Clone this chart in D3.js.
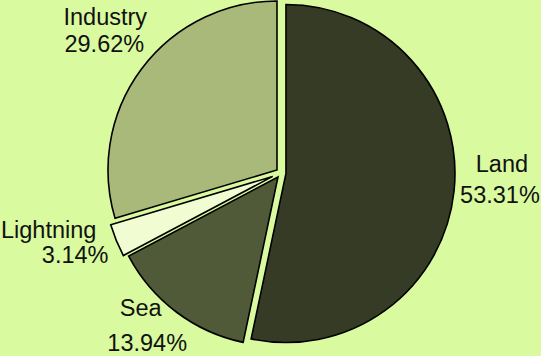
<!DOCTYPE html>
<html>
<head>
<meta charset="utf-8">
<script src="https://cdn.jsdelivr.net/npm/d3@7"></script>
<style>
  html, body { margin: 0; padding: 0; background: #d9fa9e; }
  svg { display: block; }
  text { font-family: "Liberation Sans", Arial, sans-serif; font-size: 23.5px; fill: #111; }
</style>
</head>
<body>
<script>
// Data
const categories = ["Land", "Sea", "Lightning", "Industry"];
const shares = [53.31, 13.94, 3.14, 29.62];
const colors = ["#363b26", "#505a38", "#f2fcd2", "#a8b97a"];

// Layout (explode distance and label placement relative to slice mid-angle)
const sliceLayout = {
  "Land":      { ex: 5, r: 219, da: -4.4, gap: 31, dx1: 2,     dy: 0 },
  "Sea":       { ex: 5, r: 204, da: 4.0,  gap: 35, dx1: -6.5,  dy: -1.5 },
  "Lightning": { ex: 9, r: 217, da: 3.8,  gap: 25, dx1: -26.5, dy: 0 },
  "Industry":  { ex: 5, r: 227, da: 2.2,  gap: 27, dx1: 1,     dy: 0 }
};

const W = 541, H = 356;
const cx = 281, cy = 173, R = 169;

const svg = d3.select("body").append("svg").attr("width", W).attr("height", H);
svg.append("rect").attr("width", W).attr("height", H).attr("fill", "#d9fa9e");

const data = categories.map((c, i) => ({ cat: c, value: shares[i], color: colors[i] }));
const pie = d3.pie().value(d => d.value).sort(null);
const arcs = pie(data);
const arc = d3.arc().innerRadius(0).outerRadius(R);

const g = svg.append("g").attr("transform", `translate(${cx},${cy})`);

g.selectAll("path.slice").data(arcs).enter().append("path")
  .attr("class", "slice")
  .attr("d", arc)
  .attr("fill", d => d.data.color)
  .attr("stroke", "#000")
  .attr("stroke-width", 1.6)
  .attr("stroke-linejoin", "miter")
  .attr("transform", d => {
    const a = (d.startAngle + d.endAngle) / 2;
    const e = sliceLayout[d.data.cat].ex;
    return `translate(${e * Math.sin(a)},${-e * Math.cos(a)})`;
  });

const fmt = d3.format(".2f");
const labels = g.selectAll("g.label").data(arcs).enter().append("g").attr("class", "label")
  .attr("transform", d => {
    const L = sliceLayout[d.data.cat];
    const a = (d.startAngle + d.endAngle) / 2 + L.da * Math.PI / 180;
    return `translate(${L.r * Math.sin(a)},${-L.r * Math.cos(a) + L.dy})`;
  });

labels.append("text")
  .attr("text-anchor", "middle")
  .attr("x", d => sliceLayout[d.data.cat].dx1)
  .attr("y", d => -sliceLayout[d.data.cat].gap / 2 + 8.5)
  .text(d => d.data.cat);

labels.append("text")
  .attr("text-anchor", "middle")
  .attr("x", 0)
  .attr("y", d => sliceLayout[d.data.cat].gap / 2 + 8.5)
  .text(d => fmt(d.data.value) + "%");
</script>
</body>
</html>
